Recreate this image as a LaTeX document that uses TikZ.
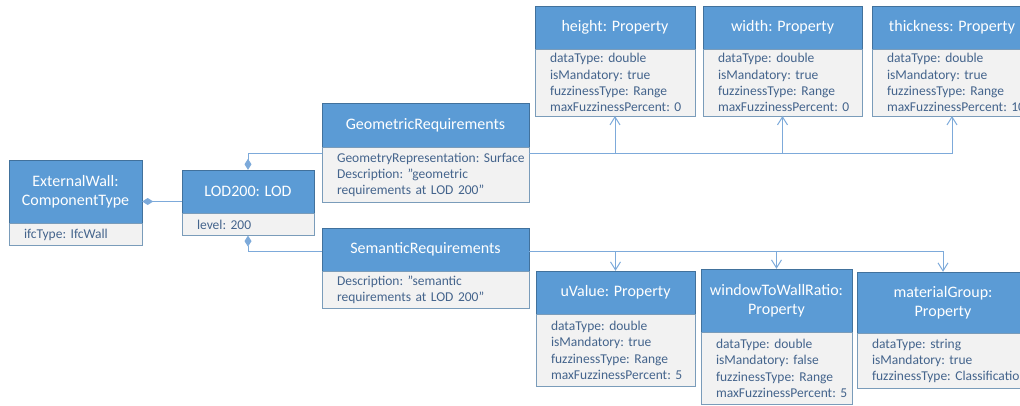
\documentclass[tikz,border=0pt]{standalone}
\usepackage{fontspec}
\setmainfont{Carlito}
\usetikzlibrary{arrows.meta, positioning}

\definecolor{hdrblue}{RGB}{91,155,213}
\definecolor{edgeblue}{RGB}{65,113,156}
\definecolor{linkblue}{RGB}{125,170,218}
\definecolor{attrgray}{RGB}{242,242,242}
\definecolor{attrtext}{RGB}{68,100,140}
\hyphenpenalty=10000
\exhyphenpenalty=10000

\begin{document}
\begin{tikzpicture}[
    x=1pt, y=-1pt,
    node distance=0pt,
    hdr/.style={rectangle, draw=edgeblue, fill=hdrblue, text=white, align=center, minimum width=#1, inner sep=0pt, font=\fontsize{16}{19.5}\selectfont},
    attr/.style={rectangle, draw=edgeblue!70, fill=attrgray, text=attrtext, align=left, text width=#1, inner xsep=15pt, inner ysep=4pt, font=\fontsize{13.5}{16.3}\selectfont\frenchspacing},
    own/.style={{Diamond[length=11pt,width=7pt]}-, draw=linkblue, line width=1pt},
    ref/.style={-{Straight Barb[length=8pt,width=10pt]}, draw=linkblue, line width=1pt}
]
    \useasboundingbox (0,0) rectangle (1020,405);
    \clip (0,0) rectangle (1020,405);

    % Classes
    \node[hdr=133pt, minimum height=63pt] (exthdr) at (75.5,191.5) {ExternalWall:\\ComponentType};
    \node[attr=103pt, minimum height=22pt, below=of exthdr] (extbody) {ifcType:~IfcWall};
    \node[hdr=132pt, minimum height=43pt] (lodhdr) at (248,191.5) {LOD200: LOD};
    \node[attr=102pt, minimum height=22pt, below=of lodhdr] (lodbody) {level:~200};
    \node[hdr=207pt, minimum height=44pt] (geohdr) at (425.5,125) {GeometricRequirements};
    \node[attr=177pt, minimum height=55pt, below=of geohdr] (geobody) {\mbox{GeometryRepresentation: Surface}\\Description:~"geometric\\requirements~at~LOD~200"};
    \node[hdr=207pt, minimum height=43pt] (semhdr) at (425.5,249.5) {SemanticRequirements};
    \node[attr=177pt, minimum height=37pt, below=of semhdr] (sembody) {Description:~"semantic\\requirements~at~LOD~200"};

    % Geometric properties
    \node[hdr=160pt, minimum height=43pt] (hthdr) at (615,27.5) {height: Property};
    \node[attr=130pt, minimum height=62pt, below=of hthdr] (htbody) {dataType:~double\\isMandatory:~true\\fuzzinessType:~Range\\maxFuzzinessPercent:~0};
    \node[hdr=159pt, minimum height=43pt] (wdhdr) at (782.5,27.5) {width: Property};
    \node[attr=129pt, minimum height=62pt, below=of wdhdr] (wdbody) {dataType:~double\\isMandatory:~true\\fuzzinessType:~Range\\maxFuzzinessPercent:~0};
    \node[hdr=160pt, minimum height=43pt] (thhdr) at (952,27.5) {thickness: Property};
    \node[attr=130pt, minimum height=62pt, below=of thhdr] (thbody) {dataType:~double\\isMandatory:~true\\fuzzinessType:~Range\\maxFuzzinessPercent:~10};

    % Semantic properties
    \node[hdr=159pt, minimum height=43pt] (uvhdr) at (615.5,292.5) {uValue: Property};
    \node[attr=129pt, minimum height=72pt, below=of uvhdr] (uvbody) {dataType:~double\\isMandatory:~true\\fuzzinessType:~Range\\maxFuzzinessPercent:~5};
    \node[hdr=151pt, minimum height=63pt] (wwhdr) at (776.5,300.5) {windowToWallRatio:\\Property};
    \node[attr=121pt, minimum height=72pt, below=of wwhdr] (wwbody) {dataType:~double\\isMandatory:~false\\fuzzinessType:~Range\\maxFuzzinessPercent:~5};
    \node[hdr=172pt, minimum height=61pt] (mghdr) at (943,302.5) {materialGroup:\\Property};
    \node[attr=142pt, minimum height=55pt, below=of mghdr] (mgbody) {dataType:~string\\isMandatory:~true\\\mbox{fuzzinessType: Classification}};

    % Links
    \coordinate (extlink) at ([yshift=-10pt]exthdr.east);
    \draw[own] (extlink) -- (extlink -| lodhdr.west);
    \draw[own] (lodhdr.north) |- ([yshift=-6pt]geobody.north west);
    \draw[own] (lodbody.south) |- ([yshift=-24pt]semhdr.north west);

    \coordinate (geolink) at ([yshift=-6pt]geobody.north east);
    \draw[ref] (geolink) -| (thbody.south);
    \draw[ref] (geolink -| htbody.south) -- (htbody.south);
    \draw[ref] (geolink -| wdbody.south) -- (wdbody.south);

    \coordinate (semlink) at ([yshift=-24pt]semhdr.north east);
    \draw[ref] (semlink) -| (mghdr.north);
    \draw[ref] (semlink -| uvhdr.north) -- (uvhdr.north);
    \draw[ref] (semlink -| wwhdr.north) -- (wwhdr.north);
\end{tikzpicture}
\end{document}
